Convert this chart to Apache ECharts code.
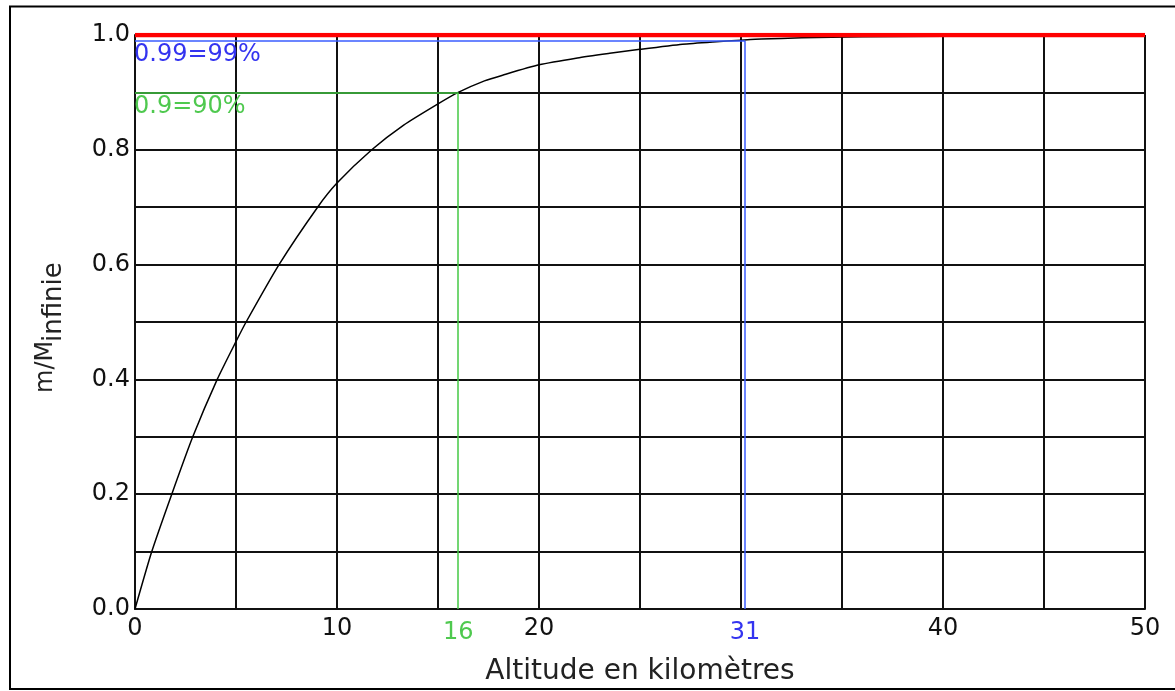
<!DOCTYPE html>
<html>
<head>
<meta charset="utf-8">
<script src="https://cdn.jsdelivr.net/npm/echarts@6/dist/echarts.min.js"></script>
<style>
html,body{margin:0;padding:0;background:#fff;}
#chart{width:1175px;height:691px;}
</style>
</head>
<body>
<div id="chart"></div>
<script>
// Altitude (km) and mass fraction m/M_infinie
const altitudeKm = [0, 0.83, 1.82, 2.86, 4.07, 5, 5.5, 7.13, 9.04, 10, 11.72, 13.3, 15, 16, 17.3, 18.2, 20, 21.9, 23.5, 25, 27.1, 28.6, 30, 31, 33, 36, 40, 45, 50];
const massRatio  = [0, 0.1, 0.2, 0.3, 0.4, 0.466, 0.5, 0.6, 0.7, 0.742, 0.8, 0.843, 0.88, 0.9, 0.92, 0.93, 0.948, 0.96, 0.968, 0.975, 0.984, 0.988, 0.991, 0.993, 0.995, 0.997, 0.998, 0.999, 1.0];

// Threshold markers
const thresholdRatio = [0.9, 0.99];
const thresholdKm = [16, 30.2];
const thresholdAxisLabel = ['16', '31'];
const thresholdText = ['0.9=90%', '0.99=99%'];
const thresholdColor = ['#44c944', '#3a5cff'];
const thresholdTextColor = ['#4fc94f', '#3434f0'];

// Axis ticks
const xTickLabels = [0, 10, 20, 40, 50];
const yTickLabels = [0.0, 0.2, 0.4, 0.6, 0.8, 1.0];
const asymptote = 1.0;

const FONT = 'DejaVu Sans';
const chart = echarts.init(document.getElementById('chart'), null, {renderer: 'canvas'});

function thresholdSeries(i) {
  return {
    type: 'line',
    data: [],
    silent: true,
    z: 3,
    markLine: {
      silent: true,
      symbol: ['none', 'none'],
      animation: false,
      lineStyle: {color: thresholdColor[i], width: 1.5, type: 'solid'},
      data: [
        [
          {coord: [0, thresholdRatio[i]], label: {show: true, position: 'insideStartBottom', formatter: thresholdText[i], color: thresholdTextColor[i], fontFamily: FONT, fontSize: 24, distance: [-1, 2]}},
          {coord: [thresholdKm[i], thresholdRatio[i]]}
        ],
        [
          {coord: [thresholdKm[i], 0], label: {show: true, position: 'start', formatter: thresholdAxisLabel[i], color: thresholdTextColor[i], fontFamily: FONT, fontSize: 24, distance: 12}},
          {coord: [thresholdKm[i], thresholdRatio[i]]}
        ]
      ]
    }
  };
}

const option = {
  animation: false,
  backgroundColor: '#fff',
  grid: {left: 135, right: 30, top: 35, bottom: 80, containLabel: false},
  xAxis: {
    type: 'value', min: 0, max: 50, interval: 5,
    name: 'Altitude en kilomètres', nameLocation: 'middle', nameGap: 49,
    nameTextStyle: {fontFamily: FONT, fontSize: 28, color: '#222'},
    axisLine: {show: true, lineStyle: {color: '#111', width: 2}},
    axisTick: {show: false},
    axisLabel: {
      margin: 8, fontFamily: FONT, fontSize: 24, color: '#111',
      formatter: v => xTickLabels.indexOf(Math.round(v)) >= 0 ? String(Math.round(v)) : ''
    },
    splitLine: {show: true, lineStyle: {color: '#111', width: 2}}
  },
  yAxis: {
    type: 'value', min: 0, max: 1, interval: 0.1,
    axisLine: {show: true, lineStyle: {color: '#111', width: 2}},
    axisTick: {show: false},
    axisLabel: {
      margin: 5, fontFamily: FONT, fontSize: 24, color: '#111',
      formatter: v => {
        const r = Math.round(v * 10) / 10;
        return yTickLabels.some(t => Math.abs(t - r) < 1e-6) ? r.toFixed(1) : '';
      }
    },
    splitLine: {show: true, lineStyle: {color: '#111', width: 2}}
  },
  series: [
    {
      type: 'line',
      data: altitudeKm.map((x, i) => [x, massRatio[i]]),
      showSymbol: false,
      smooth: 0.2,
      lineStyle: {color: '#000', width: 1.5},
      z: 4
    },
    thresholdSeries(0),
    thresholdSeries(1),
    {
      type: 'line',
      data: [[0, asymptote], [50, asymptote]],
      showSymbol: false,
      lineStyle: {color: '#ff0000', width: 4.5},
      z: 6
    }
  ],
  graphic: [
    {
      type: 'rect', silent: true, z: 100,
      shape: {x: 10, y: 6.5, width: 1180, height: 682.5},
      style: {fill: 'none', stroke: '#000', lineWidth: 2}
    },
    {
      type: 'group', x: 46, y: 393, rotation: Math.PI / 2, z: 100,
      children: [
        {type: 'text', x: 0, y: 0, style: {text: 'm/M', fontFamily: FONT, fontSize: 24, fill: '#222', align: 'left', verticalAlign: 'middle'}},
        {type: 'text', x: 51, y: 8, style: {text: 'infinie', fontFamily: FONT, fontSize: 26, fill: '#222', align: 'left', verticalAlign: 'middle'}}
      ]
    }
  ]
};
chart.setOption(option);
</script>
</body>
</html>
